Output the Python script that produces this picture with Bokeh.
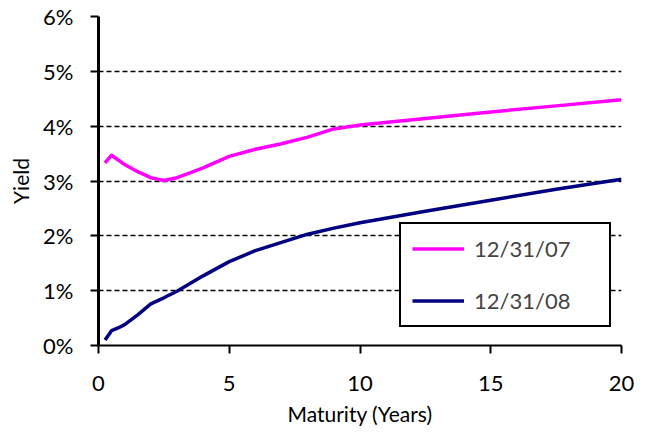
from bokeh.plotting import figure
from bokeh.models import Range1d, FixedTicker, PrintfTickFormatter, Legend, LegendItem
from bokeh.embed import file_html
from bokeh.resources import INLINE

maturity_2007 = [0.25, 0.5, 1.0, 1.5, 2.0, 2.5, 3.0, 3.5, 4.0, 5.0, 6.0, 7.0, 8.0, 9.0, 10.0, 12.5, 15.0, 17.5, 20.0]
yield_2007 = [3.33, 3.47, 3.30, 3.17, 3.06, 3.01, 3.06, 3.15, 3.24, 3.45, 3.58, 3.68, 3.80, 3.95, 4.02, 4.14, 4.26, 4.37, 4.48]
maturity_2008 = [0.25, 0.5, 0.75, 1.0, 1.5, 2.0, 2.5, 3.0, 4.0, 5.0, 6.0, 7.0, 8.0, 9.0, 10.0, 12.5, 15.0, 17.5, 20.0]
yield_2008 = [0.10, 0.27, 0.32, 0.38, 0.56, 0.76, 0.87, 0.99, 1.27, 1.53, 1.73, 1.88, 2.03, 2.14, 2.24, 2.45, 2.65, 2.85, 3.03]
series_names = ["12/31/07", "12/31/08"]
x_ticks = [0, 5, 10, 15, 20]
y_ticks = [0, 1, 2, 3, 4, 5, 6]

FONT = "Lato"

p = figure(width=637, height=428, output_backend="svg", toolbar_location=None,
           x_range=Range1d(0, 20), y_range=Range1d(0, 6),
           min_border_left=98, min_border_right=16, min_border_top=16, min_border_bottom=83)
p.outline_line_color = None
p.xgrid.grid_line_color = None
p.ygrid.grid_line_color = "black"
p.ygrid.grid_line_alpha = 1
p.ygrid.grid_line_dash = "5 3"
p.ygrid.grid_line_width = 1.4

p.xaxis.ticker = FixedTicker(ticks=x_ticks)
p.yaxis.ticker = FixedTicker(ticks=y_ticks)
p.yaxis.formatter = PrintfTickFormatter(format="%d%%")
for ax in (p.xaxis, p.yaxis):
    ax.minor_tick_line_color = None
    ax.major_tick_in = 0
    ax.major_tick_out = 8
    ax.major_label_text_font = FONT
    ax.major_label_text_font_size = "22px"
    ax.major_label_text_color = "black"
    ax.axis_label_text_font = FONT
    ax.axis_label_text_font_size = "21px"
    ax.axis_label_text_font_style = "normal"
    ax.axis_label_text_color = "black"
    ax.axis_line_color = "black"
    ax.major_tick_line_color = "black"
p.yaxis.axis_line_width = 3
p.yaxis.major_tick_line_width = 2
p.xaxis.axis_line_width = 2
p.xaxis.major_tick_line_width = 2
p.xaxis.axis_label = "Maturity (Years)"
p.yaxis.axis_label = "Yield"
p.xaxis.major_label_standoff = 22
p.xaxis.axis_label_standoff = 7
p.yaxis.major_label_standoff = 17
p.yaxis.axis_label_standoff = 7

r1 = p.line(maturity_2007, yield_2007, line_color="#FF00FF", line_width=3.5, line_join="round")
r2 = p.line(maturity_2008, yield_2008, line_color="#000080", line_width=3.5, line_join="round")

legend = Legend(items=[LegendItem(label=series_names[0], renderers=[r1]),
                       LegendItem(label=series_names[1], renderers=[r2])],
                location=(301, 18), margin=0, padding=11, spacing=25,
                glyph_width=52, glyph_height=21, label_height=21, label_width=124,
                label_standoff=10,
                label_text_font=FONT, label_text_font_size="22px",
                border_line_color="black", border_line_alpha=1, border_line_width=2,
                background_fill_color="white", background_fill_alpha=1)
p.add_layout(legend, "center")

open("out.html", "w").write(file_html(p, INLINE))
